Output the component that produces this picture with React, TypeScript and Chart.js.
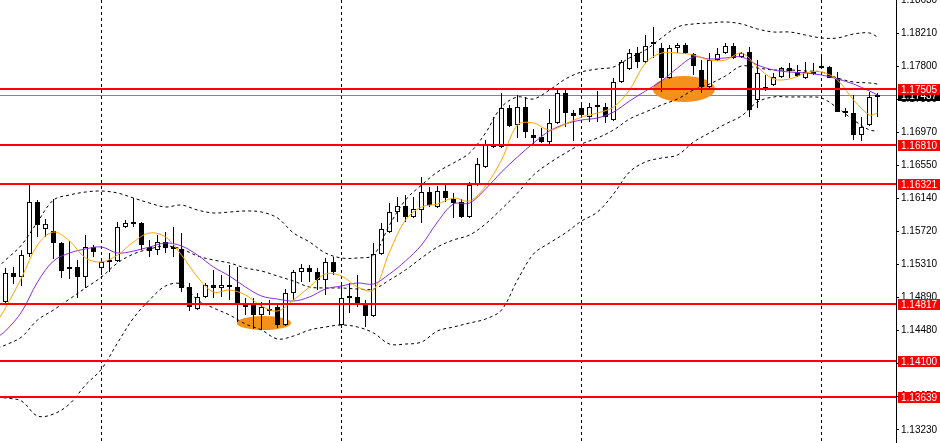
import React, { useEffect, useRef } from 'react';
import { Chart, registerables } from 'chart.js';

Chart.register(...registerables);

// ---- Candles (index 0..109) ----
const OPEN = [
  1.14836, 1.15200, 1.15150, 1.15439, 1.16092, 1.15753, 1.15728, 1.15577, 1.15250, 1.15275,
  1.15150, 1.15527, 1.15263, 1.15363, 1.15351, 1.15778, 1.15816, 1.15828, 1.15527, 1.15489,
  1.15590, 1.15527, 1.15502, 1.15024, 1.14748, 1.14899, 1.15049, 1.15012, 1.15049, 1.15024,
  1.14773, 1.14798, 1.14673, 1.14748, 1.14773, 1.14547, 1.14949, 1.15213, 1.15263, 1.15213,
  1.15112, 1.15338, 1.14547, 1.14899, 1.14899, 1.14798, 1.14660, 1.15439, 1.15715, 1.15966,
  1.16042, 1.15903, 1.15991, 1.16217, 1.16029, 1.16230, 1.16130, 1.16092, 1.15903, 1.16305,
  1.16531, 1.16783, 1.16783, 1.17273, 1.17059, 1.17285, 1.16933, 1.16908, 1.16845, 1.17084,
  1.17461, 1.17210, 1.17273, 1.17159, 1.17298, 1.17285, 1.17122, 1.17599, 1.17762, 1.17963,
  1.17850, 1.18101, 1.18026, 1.17649, 1.18026, 1.18064, 1.17951, 1.17750, 1.17536, 1.17875,
  1.17963, 1.18051, 1.17913, 1.17976, 1.17373, 1.17499, 1.17561, 1.17662, 1.17775, 1.17725,
  1.17649, 1.17700, 1.17800, 1.17787, 1.17649, 1.17235, 1.17210, 1.16933, 1.17059, 1.17411,
];
const HIGH = [
  1.15263, 1.15275, 1.15489, 1.16305, 1.16117, 1.15878, 1.16130, 1.15590, 1.15602, 1.15363,
  1.15677, 1.15552, 1.15389, 1.15451, 1.15841, 1.15866, 1.16142, 1.15841, 1.15615, 1.15677,
  1.15715, 1.15778, 1.15703, 1.15075, 1.14949, 1.15075, 1.15238, 1.15175, 1.15301, 1.15275,
  1.14886, 1.14886, 1.14836, 1.14861, 1.14823, 1.14999, 1.15238, 1.15313, 1.15301, 1.15263,
  1.15389, 1.15401, 1.15075, 1.15075, 1.15175, 1.14861, 1.15577, 1.15828, 1.16079, 1.16155,
  1.16180, 1.16155, 1.16406, 1.16280, 1.16293, 1.16305, 1.16205, 1.16130, 1.16343, 1.16645,
  1.16871, 1.17159, 1.17461, 1.17310, 1.17436, 1.17411, 1.17009, 1.17021, 1.17260, 1.17524,
  1.17524, 1.17247, 1.17310, 1.17335, 1.17486, 1.17335, 1.17649, 1.17875, 1.18014, 1.18039,
  1.18189, 1.18290, 1.18089, 1.18064, 1.18089, 1.18089, 1.17963, 1.17875, 1.17963, 1.18026,
  1.18089, 1.18089, 1.17976, 1.18039, 1.17875, 1.17687, 1.17712, 1.17787, 1.17838, 1.17813,
  1.17850, 1.17838, 1.17913, 1.17800, 1.17725, 1.17273, 1.17436, 1.17159, 1.17473, 1.17461,
];
const LOW = [
  1.14811, 1.15062, 1.15037, 1.15401, 1.15652, 1.15652, 1.15376, 1.15137, 1.15125, 1.14886,
  1.15012, 1.15401, 1.15175, 1.15213, 1.15338, 1.15765, 1.15778, 1.15489, 1.15401, 1.15426,
  1.15451, 1.15401, 1.14961, 1.14723, 1.14735, 1.14886, 1.14886, 1.14899, 1.14861, 1.14585,
  1.14673, 1.14497, 1.14484, 1.14673, 1.14509, 1.14534, 1.14861, 1.15087, 1.15087, 1.14987,
  1.14924, 1.15175, 1.14509, 1.14698, 1.14773, 1.14522, 1.14647, 1.15426, 1.15703, 1.15841,
  1.15841, 1.15891, 1.15828, 1.16029, 1.16017, 1.16092, 1.15891, 1.15891, 1.15891, 1.16293,
  1.16519, 1.16770, 1.16770, 1.17034, 1.16896, 1.16896, 1.16808, 1.16833, 1.16808, 1.17072,
  1.17034, 1.16858, 1.17147, 1.17097, 1.17097, 1.17084, 1.17109, 1.17587, 1.17750, 1.17775,
  1.17838, 1.17901, 1.17473, 1.17637, 1.17963, 1.17951, 1.17687, 1.17461, 1.17499, 1.17863,
  1.17951, 1.17888, 1.17901, 1.17159, 1.17273, 1.17486, 1.17549, 1.17649, 1.17649, 1.17662,
  1.17637, 1.17687, 1.17762, 1.17649, 1.17222, 1.17159, 1.16871, 1.16858, 1.17046, 1.17159,
];
const CLOSE = [
  1.15200, 1.15150, 1.15426, 1.16092, 1.15803, 1.15816, 1.15577, 1.15225, 1.15275, 1.15150,
  1.15527, 1.15464, 1.15338, 1.15338, 1.15778, 1.15828, 1.15828, 1.15552, 1.15476, 1.15590,
  1.15514, 1.15502, 1.15012, 1.14773, 1.14899, 1.15049, 1.15012, 1.15049, 1.15024, 1.14811,
  1.14798, 1.14673, 1.14773, 1.14723, 1.14547, 1.14949, 1.15213, 1.15263, 1.15213, 1.15112,
  1.15338, 1.15213, 1.14886, 1.14886, 1.14823, 1.14660, 1.15439, 1.15753, 1.15966, 1.16042,
  1.15903, 1.16004, 1.16217, 1.16054, 1.16230, 1.16142, 1.16079, 1.15903, 1.16305, 1.16569,
  1.16808, 1.16820, 1.17273, 1.17046, 1.17285, 1.16971, 1.16896, 1.16845, 1.17084, 1.17461,
  1.17210, 1.17172, 1.17185, 1.17285, 1.17285, 1.17159, 1.17599, 1.17850, 1.17963, 1.17850,
  1.18051, 1.18076, 1.17649, 1.18026, 1.18064, 1.17963, 1.17800, 1.17536, 1.17875, 1.17951,
  1.18051, 1.17901, 1.17963, 1.17247, 1.17712, 1.17536, 1.17662, 1.17775, 1.17737, 1.17674,
  1.17725, 1.17725, 1.17775, 1.17649, 1.17222, 1.17210, 1.16933, 1.17034, 1.17411, 1.17437,
];

// ---- Indicator readings (bar index -> price); index -1 is the bar just left of the view ----
const LINE_X = [
  -1, 0, 2, 4, 6, 8, 10, 12, 14, 16, 18, 20, 22, 24, 26, 28, 30, 32, 34, 36, 38,
  40, 42, 44, 46, 48, 50, 52, 54, 56, 58, 60, 62, 64, 66, 68, 70, 72, 74, 76, 78,
  80, 82, 84, 86, 88, 90, 92, 94, 96, 98, 100, 102, 104, 106, 108, 109,
];
const MA_FAST = [
  1.14597,
  1.14761, 1.15137, 1.15552, 1.15715, 1.15602, 1.15389, 1.15338, 1.15426, 1.15590, 1.15703,
  1.15652, 1.15426, 1.15150, 1.14961, 1.14987, 1.14924, 1.14786, 1.14723, 1.14861, 1.15024,
  1.15188, 1.15162, 1.15024, 1.14987, 1.15464, 1.15866, 1.16029, 1.16067, 1.16142, 1.16104,
  1.16293, 1.16619, 1.17059, 1.17084, 1.16996, 1.17072, 1.17159, 1.17210, 1.17285, 1.17499,
  1.17838, 1.17963, 1.17963, 1.17938, 1.17875, 1.17875, 1.17963, 1.17787, 1.17637, 1.17637,
  1.17712, 1.17725, 1.17624, 1.17373, 1.17185, 1.17210,
];
const MA_SLOW = [
  1.14396,
  1.14472, 1.14710, 1.15087, 1.15351, 1.15451, 1.15502, 1.15527, 1.15451, 1.15476, 1.15527,
  1.15577, 1.15540, 1.15426, 1.15275, 1.15162, 1.15024, 1.14911, 1.14873, 1.14848, 1.14899,
  1.14999, 1.15037, 1.15075, 1.15062, 1.15188, 1.15351, 1.15552, 1.15841, 1.16067, 1.16079,
  1.16255, 1.16469, 1.16657, 1.16833, 1.16984, 1.17072, 1.17122, 1.17147, 1.17222, 1.17360,
  1.17486, 1.17612, 1.17775, 1.17913, 1.17888, 1.17901, 1.17913, 1.17813, 1.17750, 1.17725,
  1.17712, 1.17687, 1.17637, 1.17574, 1.17486, 1.17436,
];
const BB_UPPER = [
  1.15263,
  1.15363, 1.15552, 1.15841, 1.16117, 1.16180, 1.16217, 1.16230, 1.16205, 1.16142, 1.16079,
  1.16029, 1.16054, 1.15991, 1.15954, 1.15966, 1.15979, 1.15966, 1.15891, 1.15703, 1.15590,
  1.15451, 1.15389, 1.15389, 1.15426, 1.15803, 1.16117, 1.16305, 1.16469, 1.16582, 1.16707,
  1.16959, 1.17285, 1.17411, 1.17386, 1.17499, 1.17637, 1.17725, 1.17762, 1.17787, 1.17901,
  1.18001, 1.18152, 1.18290, 1.18328, 1.18340, 1.18353, 1.18328, 1.18265, 1.18227, 1.18227,
  1.18189, 1.18152, 1.18152, 1.18202, 1.18215, 1.18164,
];
const BB_MIDDLE = [
  1.14258,
  1.14296, 1.14396, 1.14610, 1.14735, 1.14873, 1.15012, 1.15150, 1.15326, 1.15439, 1.15502,
  1.15540, 1.15502, 1.15414, 1.15363, 1.15326, 1.15263, 1.15225, 1.15162, 1.15099, 1.15024,
  1.15012, 1.15012, 1.14999, 1.14999, 1.15112, 1.15238, 1.15389, 1.15527, 1.15615, 1.15677,
  1.15816, 1.16004, 1.16205, 1.16431, 1.16582, 1.16707, 1.16820, 1.16896, 1.16996, 1.17134,
  1.17222, 1.17310, 1.17386, 1.17499, 1.17574, 1.17675, 1.17800, 1.17775, 1.17750, 1.17750,
  1.17737, 1.17725, 1.17649, 1.17599, 1.17587, 1.17574,
];
const BB_LOWER = [
  1.13642,
  1.13630, 1.13592, 1.13404, 1.13429, 1.13555, 1.13793, 1.13994, 1.14321, 1.14635, 1.14861,
  1.15037, 1.15062, 1.14861, 1.14761, 1.14673, 1.14560, 1.14484, 1.14371, 1.14409, 1.14484,
  1.14522, 1.14547, 1.14522, 1.14447, 1.14308, 1.14308, 1.14333, 1.14472, 1.14522, 1.14572,
  1.14622, 1.14735, 1.15112, 1.15439, 1.15577, 1.15703, 1.15853, 1.15966, 1.16192, 1.16469,
  1.16595, 1.16645, 1.16682, 1.16845, 1.16959, 1.17072, 1.17172, 1.17348, 1.17411, 1.17411,
  1.17411, 1.17398, 1.17273, 1.17122, 1.16996, 1.16984,
];

// ---- Levels, ticks, annotations ----
const LEVELS = [1.17505, 1.16810, 1.16321, 1.14817, 1.14100, 1.13639];
const BID = 1.17437;
const Y_TICKS = [
  1.18630, 1.18210, 1.17800, 1.17380, 1.16970, 1.16550, 1.16140,
  1.15720, 1.15310, 1.14890, 1.14480, 1.14060, 1.13650, 1.13230,
];
const SEPARATORS = [12, 42, 72, 102];
// [centre bar index, centre price, half width in bars, half height in price]
const HIGHLIGHTS = [
  [32.3, 1.14572, 3.4, 0.00088],
  [84.8, 1.17511, 3.9, 0.00163],
];
const Y_MIN = 1.13065;
const Y_MAX = 1.18629;
const X_MIN = -0.6875;
const X_MAX = 111.3125;

const FONT = '"Liberation Sans", Arial, sans-serif';

const overlay = {
  id: 'overlay',
  beforeDatasetsDraw(chart: any) {
    const { ctx, chartArea, scales } = chart;
    const x = scales.x;
    const y = scales.y;
    ctx.save();
    const by = Math.round(y.getPixelForValue(BID)) + 0.5;
    ctx.strokeStyle = '#778899';
    ctx.lineWidth = 1;
    ctx.beginPath();
    ctx.moveTo(chartArea.left, by);
    ctx.lineTo(chartArea.right, by);
    ctx.stroke();
    ctx.fillStyle = '#F5901C';
    for (const [cx, cy, rx, ry] of HIGHLIGHTS) {
      const px = x.getPixelForValue(cx);
      const py = y.getPixelForValue(cy);
      const prx = Math.abs(x.getPixelForValue(cx + rx) - px);
      const pry = Math.abs(y.getPixelForValue(cy + ry) - py);
      ctx.beginPath();
      ctx.ellipse(px, py, prx, pry, 0, 0, Math.PI * 2);
      ctx.fill();
    }
    ctx.restore();
  },
  afterDatasetsDraw(chart: any) {
    const { ctx, chartArea, scales } = chart;
    const y = scales.y;
    ctx.save();
    ctx.strokeStyle = '#FF0000';
    ctx.lineWidth = 2;
    for (const v of LEVELS) {
      const py = Math.round(y.getPixelForValue(v));
      ctx.beginPath();
      ctx.moveTo(chartArea.left, py);
      ctx.lineTo(chartArea.right, py);
      ctx.stroke();
    }
    ctx.restore();
  },
  afterDraw(chart: any) {
    const { ctx, chartArea, scales, width } = chart;
    const y = scales.y;
    const drawLabel = (v: number, bg: string) => {
      const py = Math.round(y.getPixelForValue(v));
      ctx.fillStyle = bg;
      ctx.fillRect(chartArea.right + 2, py - 5, width - chartArea.right - 2, 11);
      ctx.fillStyle = '#FFFFFF';
      ctx.font = `10px ${FONT}`;
      ctx.textBaseline = 'middle';
      ctx.textAlign = 'left';
      ctx.fillText(v.toFixed(5), chartArea.right + 5, py + 1);
    };
    ctx.save();
    drawLabel(BID, '#000000');
    for (const v of LEVELS) drawLabel(v, '#FF0000');
    ctx.restore();
  },
};

export default function App() {
  const ref = useRef<HTMLCanvasElement | null>(null);

  useEffect(() => {
    document.body.style.margin = '0';
    const canvas = ref.current;
    if (!canvas) return;

    const bull = OPEN.map((o, i) => CLOSE[i] >= o);
    const line = (vals: number[]) => LINE_X.map((k, i) => ({ x: k, y: vals[i] }));
    const lineBase = {
      type: 'line' as const,
      borderWidth: 1,
      pointRadius: 0,
      pointHoverRadius: 0,
      fill: false,
      tension: 0.35,
      order: 0,
    };

    const chart = new Chart(canvas, {
      type: 'bar',
      data: {
        datasets: [
          { ...lineBase, label: 'MA fast', data: line(MA_FAST), borderColor: '#FFA500' },
          { ...lineBase, label: 'MA slow', data: line(MA_SLOW), borderColor: '#8A2BE2' },
          { ...lineBase, label: 'BB upper', data: line(BB_UPPER), borderColor: '#000000', borderDash: [3, 3] },
          { ...lineBase, label: 'BB middle', data: line(BB_MIDDLE), borderColor: '#000000', borderDash: [3, 3] },
          { ...lineBase, label: 'BB lower', data: line(BB_LOWER), borderColor: '#000000', borderDash: [3, 3] },
          {
            type: 'bar',
            label: 'Body',
            data: OPEN.map((o, i) => ({ x: i, y: [o, CLOSE[i]] })) as any,
            backgroundColor: bull.map((b) => (b ? '#FFFFFF' : '#000000')),
            borderColor: '#000000',
            borderWidth: 1,
            borderSkipped: false,
            barThickness: 5,
            grouped: false,
            inflateAmount: 0,
            minBarLength: 2,
            order: 1,
          } as any,
          {
            type: 'bar',
            label: 'Wick',
            data: OPEN.map((_, i) => ({ x: i, y: [LOW[i], HIGH[i]] })) as any,
            backgroundColor: '#000000',
            borderWidth: 0,
            barThickness: 1,
            grouped: false,
            inflateAmount: 0,
            order: 2,
          } as any,
        ],
      },
      options: {
        animation: false,
        responsive: true,
        maintainAspectRatio: false,
        devicePixelRatio: 1,
        events: [],
        layout: { padding: 0 },
        plugins: { legend: { display: false }, tooltip: { enabled: false } },
        scales: {
          x: {
            type: 'linear',
            min: X_MIN,
            max: X_MAX,
            offset: false,
            afterBuildTicks: (s: any) => {
              s.ticks = SEPARATORS.map((v) => ({ value: v }));
            },
            afterFit: (s: any) => {
              s.height = 0;
            },
            ticks: { display: false },
            grid: { display: true, drawOnChartArea: true, drawTicks: false, color: '#000000', lineWidth: 1, offset: false },
            border: { display: false, dash: [3, 3] },
          },
          y: {
            type: 'linear',
            position: 'right',
            min: Y_MIN,
            max: Y_MAX,
            afterBuildTicks: (s: any) => {
              s.ticks = Y_TICKS.map((v) => ({ value: v }));
            },
            afterFit: (s: any) => {
              s.width = 44;
              s.paddingTop = 0;
              s.paddingBottom = 0;
            },
            ticks: {
              color: '#000000',
              padding: 2,
              font: { family: FONT, size: 10 },
              callback: (v: any) => Number(v).toFixed(5),
            },
            grid: { display: true, drawOnChartArea: false, drawTicks: true, tickLength: 3, color: '#000000', lineWidth: 1 },
            border: { display: true, color: '#000000', width: 1 },
          },
        },
      } as any,
      plugins: [overlay],
    });

    return () => chart.destroy();
  }, []);

  return (
    <div style={{ position: 'fixed', left: 0, top: 0, width: 940, height: 443, background: '#FFFFFF' }}>
      <canvas ref={ref} />
    </div>
  );
}
